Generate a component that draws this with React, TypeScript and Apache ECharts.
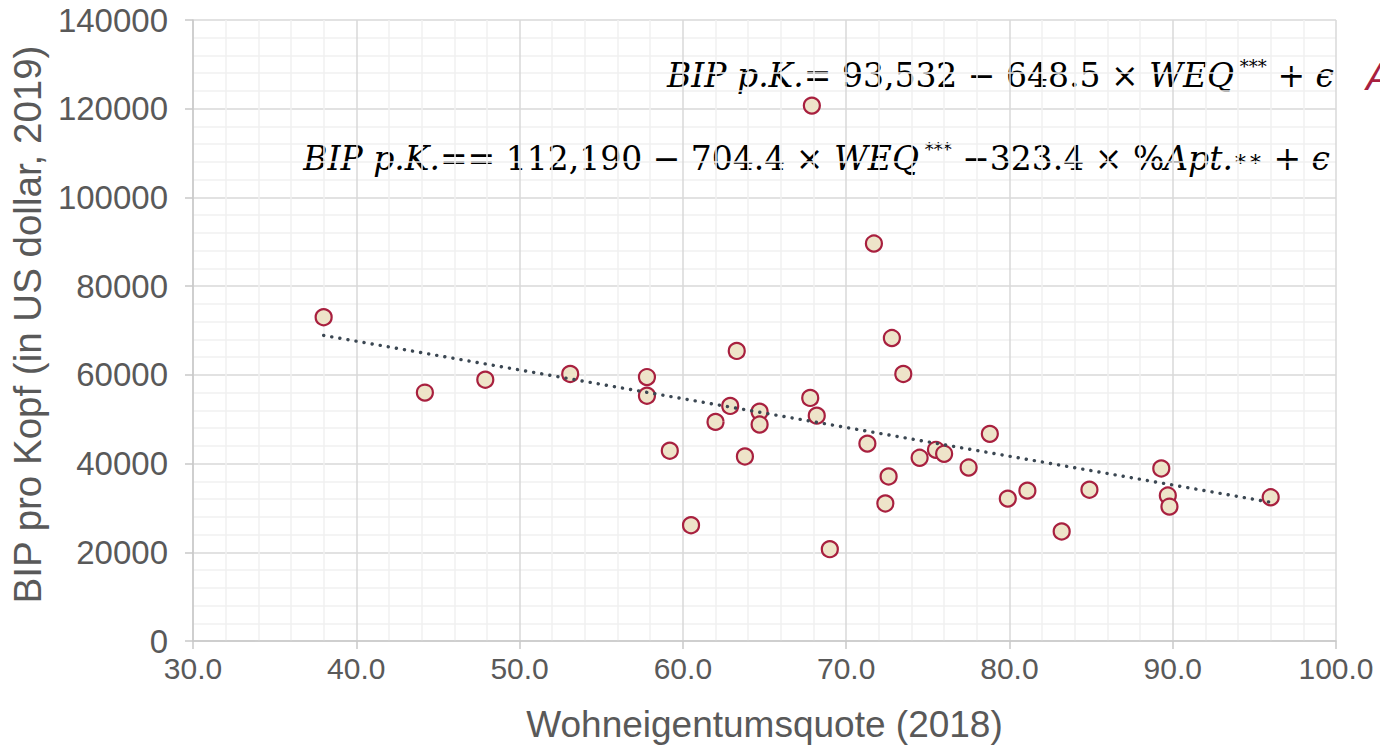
import React, { useEffect, useRef } from "react";
import * as echarts from "echarts";

// Wohneigentumsquote (2018) in %
const homeOwnership: number[] = [
  38.0, 44.2, 47.9, 53.1, 57.8, 57.8, 59.2, 60.5, 62.0, 62.9, 63.3, 63.8, 64.7, 64.7,
  67.8, 67.9, 68.2, 69.0, 71.3, 71.7, 72.4, 72.6, 72.8, 73.5, 74.5, 75.5, 76.0, 77.5,
  78.8, 79.9, 81.1, 83.2, 84.9, 89.3, 89.7, 89.8, 96.0,
];
// BIP pro Kopf (US dollar, 2019)
const gdpPerCapita: number[] = [
  73000, 56000, 58900, 60200, 59500, 55300, 42900, 26100, 49400, 53000, 65400, 41600, 51700, 48800,
  54800, 120700, 50800, 20700, 44500, 89600, 31000, 37100, 68300, 60200, 41300, 43100, 42200, 39100,
  46700, 32100, 33900, 24700, 34100, 38900, 32800, 30300, 32400,
];
// Trend line coefficients (from the shown regression)
const trendIntercept = 93532;
const trendSlope = -648.5;
const trendRange: number[] = [38.0, 96.0];

const xTicks = { min: 30, max: 100, interval: 10 };
const yTicks = { min: 0, max: 140000, interval: 20000 };

export default function App() {
  const ref = useRef<HTMLDivElement>(null);
  useEffect(() => {
    if (!ref.current) return;
    const chart = echarts.init(ref.current, undefined, { renderer: "svg" });
    const points = homeOwnership.map((x, i) => [x, gdpPerCapita[i]]);
    const trend = trendRange.map((x) => [x, trendIntercept + trendSlope * x]);
    const grey = "#595959";
    const eqFont = "DejaVu Serif";
    const rich = {
      i: { fontFamily: eqFont, fontStyle: "italic", fontSize: 33, color: "#000" },
      n: { fontFamily: eqFont, fontSize: 33, color: "#000" },
      s: { fontFamily: eqFont, fontSize: 18, color: "#000", verticalAlign: "top", padding: [0, 0, 18, 0] },
      m: { fontFamily: eqFont, fontSize: 22, color: "#000" },
    };
    chart.setOption({
      animation: false,
      backgroundColor: "#ffffff",
      grid: { left: 192, right: 44, top: 20, bottom: 105 },
      xAxis: {
        type: "value",
        min: xTicks.min,
        max: xTicks.max,
        interval: xTicks.interval,
        name: "Wohneigentumsquote (2018)",
        nameLocation: "middle",
        nameGap: 65,
        nameTextStyle: { fontFamily: "Liberation Sans", fontSize: 37, color: grey },
        axisLine: { show: true, lineStyle: { color: "#c8c8c8", width: 1.5 } },
        axisTick: { show: true, length: 8, lineStyle: { color: "#c8c8c8", width: 1.5 } },
        axisLabel: {
          fontFamily: "Liberation Sans",
          fontSize: 30,
          color: grey,
          margin: 12,
          formatter: (v: number) => v.toFixed(1),
        },
        splitLine: { show: true, lineStyle: { color: "#d9d9d9", width: 1.5 } },
        minorTick: { show: false, splitNumber: 5 },
        minorSplitLine: { show: true, lineStyle: { color: "#f0f0f0", width: 1.5 } },
      },
      yAxis: {
        type: "value",
        min: yTicks.min,
        max: yTicks.max,
        interval: yTicks.interval,
        name: "BIP pro Kopf (in US dollar, 2019)",
        nameLocation: "middle",
        nameGap: 144,
        nameTextStyle: { fontFamily: "Liberation Sans", fontSize: 38.5, color: grey, padding: [0, 0, 0, 12] },
        axisLine: { show: true, lineStyle: { color: "#c8c8c8", width: 1.5 } },
        axisTick: { show: true, length: 8, lineStyle: { color: "#c8c8c8", width: 1.5 } },
        axisLabel: {
          fontFamily: "Liberation Sans",
          fontSize: 33,
          color: grey,
          margin: 25,
          formatter: (v: number) => String(v),
        },
        splitLine: { show: true, lineStyle: { color: "#d9d9d9", width: 1.5 } },
        minorTick: { show: false, splitNumber: 5 },
        minorSplitLine: { show: true, lineStyle: { color: "#f0f0f0", width: 1.5 } },
      },
      series: [
        {
          type: "scatter",
          data: points,
          symbol: "circle",
          symbolSize: 16,
          z: 2,
          itemStyle: { color: "#eee4c9", borderColor: "#a8203f", borderWidth: 2.2, opacity: 1 },
        },
        {
          type: "line",
          data: trend,
          symbol: "none",
          z: 3,
          lineStyle: { color: "#3b4752", width: 3.4, type: [0.1, 8.1], cap: "round" },
        },
      ],
      graphic: [
        {
          type: "text",
          right: 46,
          top: 57,
          style: {
            text: "{i|BIP p.K.}{n|= 93,532 − 648.5 × }{i|WEQ}{s| ***}{n| + }{i|ϵ}",
            rich,
          },
        },
        {
          type: "text",
          right: 50,
          top: 140,
          style: {
            text: "{i|BIP p.K.}{n|== 112,190 − 704.4 × }{i|WEQ}{s| ***}{n| −323.4 × %}{i|Apt.}{m|∗∗}{n| + }{i|ϵ}",
            rich,
          },
        },
        {
          type: "text",
          left: 1366,
          top: 58,
          style: {
            text: "A",
            fontFamily: "Liberation Sans",
            fontStyle: "italic",
            fontSize: 38,
            fill: "#a8203f",
          },
        },
      ],
    });
    return () => chart.dispose();
  }, []);
  return (
    <div
      ref={ref}
      style={{ position: "absolute", left: 0, top: 0, width: 1380, height: 748, overflow: "hidden" }}
    />
  );
}
